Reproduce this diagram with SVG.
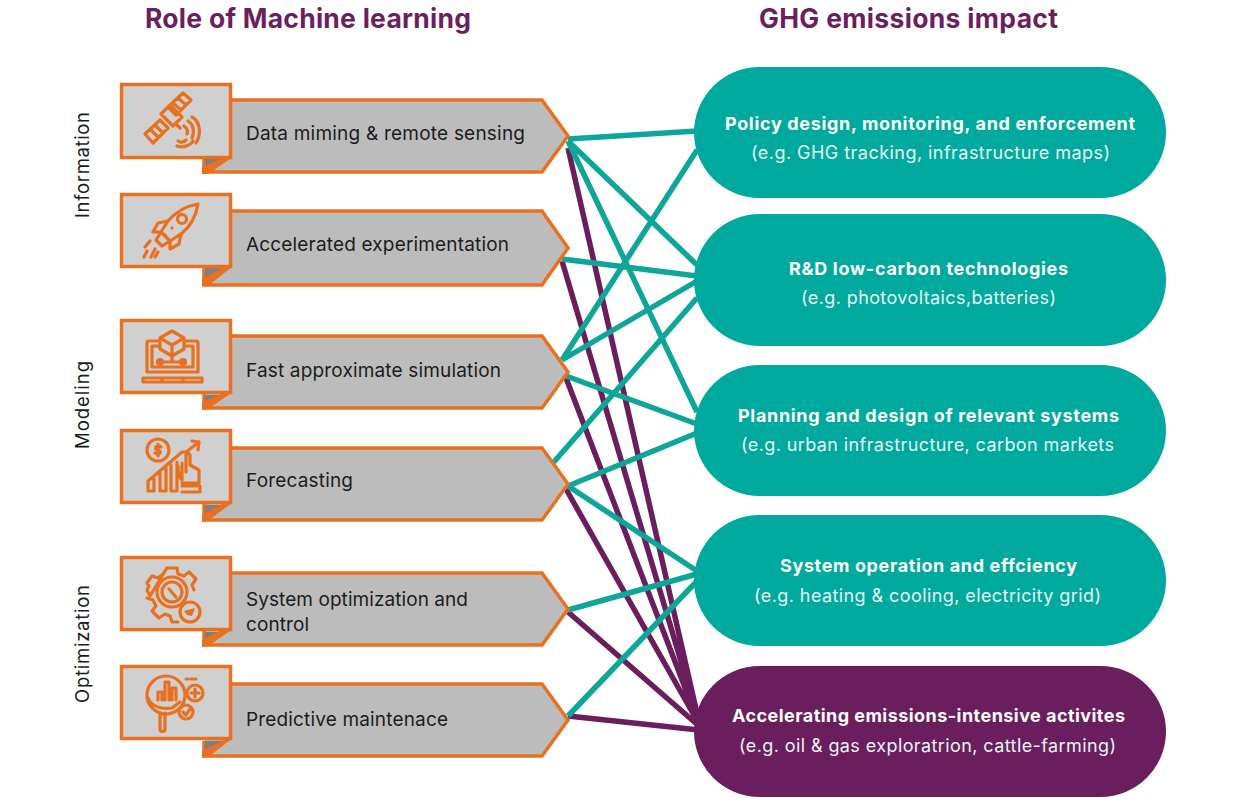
<svg xmlns="http://www.w3.org/2000/svg" width="1240" height="801" viewBox="0 0 1240 801">
<style>
text{font-family:"Inter","Open Sans","Liberation Sans",sans-serif}
.title{font-size:26.500px;font-weight:700;fill:#6b1f5e}
.side{font-size:18.500px;fill:#1c1c1c}
.lab{font-size:19px;fill:#1c1c1c}
.h{font-size:18px;font-weight:700;fill:#fff}
.s{font-size:18px;fill:#e6f5f3}
.box{fill:#d0d0d0;stroke:#e8701f;stroke-width:3.500}
.arrow{fill:#bcbcbc;stroke:#e8701f;stroke-width:3.500;stroke-linejoin:miter}
.fold{fill:#7f7f7f}
.tip{fill:#e8701f}
.ic{fill:none;stroke:#e8701f;stroke-width:3.200;stroke-linecap:round;stroke-linejoin:round}
.icf{fill:#e8701f;stroke:none}
.t{stroke:#0fa69a;stroke-width:5.500;fill:none}
.p{stroke:#6a1e5e;stroke-width:5.500;fill:none}
.teal{fill:#00a99d}
.pur{fill:#6a1e5e}
</style>
<rect width="1240" height="801" fill="#fff"/>
<text class="title" x="145" y="28" textLength="326" lengthAdjust="spacing">Role of Machine learning</text>
<text class="title" x="759" y="28" textLength="299" lengthAdjust="spacing">GHG emissions impact</text>
<text class="side" transform="translate(89,218) rotate(-90)" textLength="106" lengthAdjust="spacing">Information</text>
<text class="side" transform="translate(89,449) rotate(-90)" textLength="88" lengthAdjust="spacing">Modeling</text>
<text class="side" transform="translate(89,703) rotate(-90)" textLength="118" lengthAdjust="spacing">Optimization</text>

<g id="connectors">
<path class="p" d="M568 148L699 722M562 261L699 722M566 378L699 724M566 489L699 724M568 612L699 726M568 716L699 730"/>
<path class="t" d="M568 139L697 131M568 141L697 265M568 141L697 412M562 259L697 276M562 360L697 150M562 360L697 281M566 376L697 424M553 463L697 298M568 486L697 433M568 486L697 571M568 610L697 574M568 716L697 581"/>
</g>

<g id="pill-policy"><rect class="teal" x="694" y="67" width="472" height="131" rx="65.500"/>
<text class="h" x="725" y="130" textLength="410" lengthAdjust="spacing">Policy design, monitoring, and enforcement</text>
<text class="s" x="751" y="159" textLength="359" lengthAdjust="spacing">(e.g. GHG tracking, infrastructure maps)</text></g>
<g id="pill-rd"><rect class="teal" x="694" y="214" width="472" height="132" rx="66"/>
<text class="h" x="789" y="275" textLength="279" lengthAdjust="spacing">R&amp;D low-carbon technologies</text>
<text class="s" x="801" y="304" textLength="255" lengthAdjust="spacing">(e.g. photovoltaics,batteries)</text></g>
<g id="pill-planning"><rect class="teal" x="694" y="365" width="472" height="131" rx="65.500"/>
<text class="h" x="738" y="422" textLength="381" lengthAdjust="spacing">Planning and design of relevant systems</text>
<text class="s" x="741" y="451" textLength="373" lengthAdjust="spacing">(e.g. urban infrastructure, carbon markets</text></g>
<g id="pill-system"><rect class="teal" x="694" y="515" width="472" height="131" rx="65.500"/>
<text class="h" x="780" y="572" textLength="297" lengthAdjust="spacing">System operation and effciency</text>
<text class="s" x="754" y="602" textLength="347" lengthAdjust="spacing">(e.g. heating &amp; cooling, electricity grid)</text></g>
<g id="pill-accelerating"><rect class="pur" x="694" y="666" width="472" height="131" rx="65.500"/>
<text class="h" x="732" y="722" textLength="393" lengthAdjust="spacing">Accelerating emissions-intensive activites</text>
<text class="s" x="739" y="752" textLength="377" lengthAdjust="spacing">(e.g. oil &amp; gas exploratrion, cattle-farming)</text></g>

<g id="node-data">
<path class="arrow" d="M228 100H542L568 136L542 172H204V156"/>
<path class="fold" d="M205 158H225L205 170Z"/><path class="tip" d="M202 174V167L226 157H233L208 174Z"/>
<rect class="box" x="121.500" y="84.500" width="109" height="73"/>
<g class="ic"><path d="M145 134L160 120L168 128L153 143ZM150 129L158 137M155 125L163 133M168 107L183 93L191 100L176 115ZM173 103L181 110M178 98L186 105M161 114L170 105L182 117L173 126ZM176 124L180 128"/><path d="M184 126C187 128 188 131 187 134M188 121C193 124 195 131 192 138M192 117C201 122 201 135 196 143M178 141C181 143 184 142 186 140M177 146C183 148 190 146 193 141"/></g>
<text class="lab" x="246" y="140" textLength="279" lengthAdjust="spacing">Data miming &amp; remote sensing</text></g>

<g id="node-experiment">
<path class="arrow" d="M228 211H542L568 248L542 285H204V266"/>
<path class="fold" d="M205 268H225L205 281Z"/><path class="tip" d="M202 286V279L226 266H233L208 286Z"/>
<rect class="box" x="121.500" y="194.500" width="109" height="72"/>
<g class="ic"><path d="M198 204C186 206 175 213 168 221L161 232L170 241L181 234C190 227 196 216 198 204Z"/><circle cx="182" cy="219" r="4.500"/><path d="M168 221L158 223L153 232L161 232M181 234L179 244L170 249L170 241M161 232L156 240L162 246L170 241M150 241L145 247M147 251L144 257M155 249L151 257M158 252L155 257"/><path class="icf" d="M172 226l2 2-2 2-2-2zM165 233l2 2-2 2-2-2z"/></g>
<text class="lab" x="246" y="251" textLength="263" lengthAdjust="spacing">Accelerated experimentation</text></g>

<g id="node-simulation">
<path class="arrow" d="M228 336H542L568 372L542 408H204V392"/>
<path class="fold" d="M205 395H222L205 406Z"/><path class="tip" d="M202 410V402L226 392H233L208 409Z"/>
<rect class="box" x="121.500" y="320.500" width="109" height="72"/>
<g class="ic"><path d="M159 341H149Q147 341 147 343V372H198V343Q198 341 196 341H186M152 346H159M186 346H193V367H152V346"/><path d="M143 378H202V382H143ZM162 378V382M183 378V382"/><path d="M172 331L184 338V349L172 356L160 349V338ZM160 338L172 345L184 338M172 345V356M172 356V362M160 362H172H183"/><circle cx="160" cy="362" r="2.500" fill="#e8701f"/><circle cx="183" cy="362" r="2.500" fill="#e8701f"/></g>
<text class="lab" x="246" y="377" textLength="255" lengthAdjust="spacing">Fast approximate simulation</text></g>

<g id="node-forecasting">
<path class="arrow" d="M228 448H542L568 484L542 520H204V504"/>
<path class="fold" d="M205 505H225L205 518Z"/><path class="tip" d="M202 522V515L226 502H233L208 521Z"/>
<rect class="box" x="121.500" y="430.500" width="109" height="72"/>
<g class="ic"><circle cx="158" cy="450" r="11"/><path d="M161 447Q158 445 156 447Q155 450 158 450Q161 451 160 453Q158 455 155 453M158 444V456"/><path d="M148 481L182 452H186L199 442M192 441L199 442L198 450M148 481V491H154V478M160 473V491H166V468M171 465V491H177V462M182 463V480C178 476 178 470 178 466M186 472V455Q188 451 190 455V465L199 470V483H182M182 486H200V492H182"/></g>
<text class="lab" x="246" y="487" textLength="107" lengthAdjust="spacing">Forecasting</text></g>

<g id="node-optimization">
<path class="arrow" d="M228 573H542L568 609L542 645H204V631"/>
<path class="fold" d="M205 632H222L205 643Z"/><path class="tip" d="M202 647V640L224 629H233L208 646Z"/>
<rect class="box" x="121.500" y="557.500" width="109" height="72"/>
<g class="ic"><path d="M167 568H177L178 574L184 576L189 572L196 579L192 585L194 590M150 596L147 590L149 586L147 583L152 576L158 578L163 574L167 568ZM147 598L153 600L156 606L152 611L159 618L165 614L170 616L172 622H178"/><circle cx="172" cy="592" r="15"/><circle cx="172" cy="592" r="10"/><path d="M169 589L176 597"/><circle cx="190" cy="612" r="10"/><path class="icf" d="M184 611L195 608L192 616L187 615Z"/></g>
<text class="lab" x="246" y="606" textLength="222" lengthAdjust="spacing">System optimization and</text>
<text class="lab" x="246" y="631" textLength="63" lengthAdjust="spacing">control</text></g>

<g id="node-maintenance">
<path class="arrow" d="M228 684H542L568 720L542 756H204V741"/>
<path class="fold" d="M205 741H226L205 754Z"/><path class="tip" d="M202 758V751L228 738H233L208 757Z"/>
<rect class="box" x="121.500" y="666.500" width="109" height="72"/>
<g class="ic"><circle cx="166" cy="695" r="19"/><path d="M148 698C150 705 160 710 172 708L180 702M160 713V730Q162 733 165 730V713M158 700V692H162V700M165 700V682H169V700M172 700V688H176V700"/><circle cx="195" cy="693" r="8"/><path d="M191 693H199M195 689V697"/><circle cx="186" cy="712" r="7"/><path d="M183 712L186 715L190 709"/><path d="M186 679H188M191 679H193M195 679H196"/></g>
<text class="lab" x="246" y="726" textLength="202" lengthAdjust="spacing">Predictive maintenace</text></g>
</svg>
